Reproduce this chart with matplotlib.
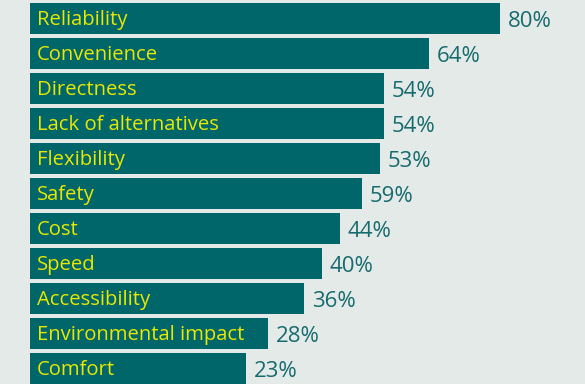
import matplotlib.pyplot as plt

categories = ["Reliability", "Convenience", "Directness", "Lack of alternatives",
              "Flexibility", "Safety", "Cost", "Speed", "Accessibility",
              "Environmental impact", "Comfort"]
# bar lengths as drawn (Safety bar is drawn shorter than its label says)
values = [80, 64, 54, 54, 53, 49, 44, 40, 36, 28, 23]
value_labels = ["80%", "64%", "54%", "54%", "53%", "59%", "44%", "40%", "36%", "28%", "23%"]

BG = "#e4eae8"
BAR = "#00666a"
YELLOW = "#e8e800"
TEAL_TXT = "#176b6e"
BASE = -25.5

fig = plt.figure(figsize=(5.85, 3.84), dpi=100, facecolor=BG)
ax = fig.add_axes([0, 0, 1, 1])
ax.set_facecolor(BG)

y = list(range(len(categories)))
widths = [v - BASE for v in values]
ax.barh(y, widths, left=BASE, height=0.885, color=BAR)

for i, (cat, lab, v) in enumerate(zip(categories, value_labels, values)):
    ax.annotate(cat, xy=(BASE, i), xytext=(7, -1), textcoords="offset pixels",
                va="center", ha="left", color=YELLOW, fontsize=14.6,
                family="Open Sans")
    ax.annotate(lab, xy=(v, i), xytext=(8, -3), textcoords="offset pixels",
                va="center", ha="left", color=TEAL_TXT, fontsize=16,
                family="Open Sans")

ax.set_xlim(-32.2, 99.1)
ax.set_ylim(10.43, -0.528)
ax.axis("off")

fig.savefig("out.png", dpi=100, facecolor=BG)
